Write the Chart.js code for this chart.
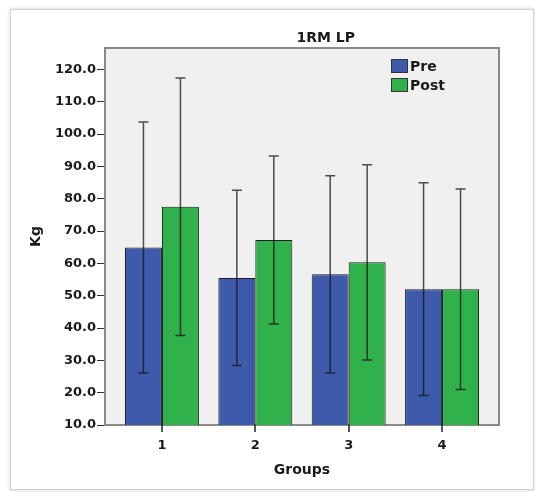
<!DOCTYPE html>
<html>
<head>
<meta charset="utf-8">
<script src="https://cdn.jsdelivr.net/npm/chart.js@4/dist/chart.umd.min.js"></script>
<style>
  html, body { margin: 0; padding: 0; background: #ffffff; }
  #wrap { position: relative; width: 535px; height: 492px; overflow: hidden; }
  #frame { position: absolute; left: 10px; top: 9px; width: 522px; height: 479px;
           border: 1px solid #d2d2d2; box-shadow: 0 0 4px rgba(0,0,0,0.18); background: #fff; }
  canvas { position: absolute; left: 0; top: 0; }
</style>
</head>
<body>
<div id="wrap">
  <div id="frame"></div>
  <canvas id="chart" width="535" height="492"></canvas>
</div>
<script>
// 1RM leg press, mean ± SD per group, before and after training
const chartTitle = '1RM LP';
const groups = [1, 2, 3, 4];
const seriesNames = ['Pre', 'Post'];
const preMean = [64.9, 55.5, 56.6, 52.0];
const preSD = [38.8, 27.1, 30.5, 32.9];
const postMean = [77.5, 67.2, 60.3, 52.0];
const postSD = [39.8, 26.0, 30.2, 31.0];
const yTickValues = [10, 20, 30, 40, 50, 60, 70, 80, 90, 100, 110, 120];
const xAxisTitle = 'Groups';
const yAxisTitle = 'Kg';

const FONT = 'DejaVu Sans';
const preColor = '#3e5aaa';
const postColor = '#31b14b';

// plot panel: grey fill and frame
const panelPlugin = {
  id: 'panel',
  beforeDraw(chart) {
    const { ctx, chartArea: a } = chart;
    ctx.save();
    ctx.fillStyle = '#f0f0f0';
    ctx.fillRect(a.left, a.top, a.right - a.left, a.bottom - a.top);
    ctx.restore();
  },
  beforeDatasetsDraw(chart) {
    const { ctx, chartArea: a } = chart;
    ctx.save();
    ctx.strokeStyle = '#8a8a8a';
    ctx.lineWidth = 2;
    ctx.strokeRect(a.left, a.top, a.right - a.left, a.bottom - a.top);
    ctx.restore();
  }
};

// whiskers: mean ± SD
const errorBarPlugin = {
  id: 'errorBars',
  afterDatasetsDraw(chart) {
    const { ctx } = chart;
    const y = chart.scales.y;
    ctx.save();
    ctx.strokeStyle = 'rgba(20,20,20,0.75)';
    ctx.lineWidth = 1.5;
    chart.data.datasets.forEach((ds, d) => {
      const meta = chart.getDatasetMeta(d);
      meta.data.forEach((bar, i) => {
        const m = ds.data[i].y, e = ds.errors[i];
        const yt = y.getPixelForValue(m + e);
        const yb = y.getPixelForValue(m - e);
        const x = bar.x, cap = 5;
        ctx.beginPath();
        ctx.moveTo(x, yt); ctx.lineTo(x, yb);
        ctx.moveTo(x - cap, yt); ctx.lineTo(x + cap, yt);
        ctx.moveTo(x - cap, yb); ctx.lineTo(x + cap, yb);
        ctx.stroke();
      });
    });
    ctx.restore();
  }
};

// title and legend inside the plot panel, group tick marks under the axis
const labelsPlugin = {
  id: 'labels',
  afterDraw(chart) {
    const { ctx, chartArea: a } = chart;
    const xs = chart.scales.x;
    ctx.save();
    ctx.strokeStyle = '#222';
    ctx.lineWidth = 1.5;
    ctx.beginPath();
    xs.ticks.forEach(t => {
      const px = Math.round(xs.getPixelForValue(t.value));
      ctx.moveTo(px, a.bottom);
      ctx.lineTo(px, a.bottom + 7);
    });
    ctx.stroke();

    ctx.fillStyle = '#1a1a1a';
    ctx.font = 'bold 14px "' + FONT + '"';
    ctx.textAlign = 'center';
    ctx.textBaseline = 'middle';
    ctx.fillText(chartTitle, a.left + (a.right - a.left) * 0.56, a.top - 10);

    ctx.font = 'bold 14px "' + FONT + '"';
    ctx.textAlign = 'left';
    chart.data.datasets.forEach((ds, d) => {
      const bx = a.right - 108, by = a.top + 11 + d * 19;
      ctx.fillStyle = ds.backgroundColor;
      ctx.fillRect(bx, by, 17, 14);
      ctx.strokeStyle = '#333';
      ctx.lineWidth = 1;
      ctx.strokeRect(bx + 0.5, by + 0.5, 16, 13);
      ctx.fillStyle = '#1a1a1a';
      ctx.fillText(ds.label, bx + 19, by + 8);
    });
    ctx.restore();
  }
};

const toPoints = vals => groups.map((g, i) => ({ x: g, y: vals[i] }));

new Chart(document.getElementById('chart'), {
  type: 'bar',
  data: {
    datasets: [
      { label: seriesNames[0], data: toPoints(preMean), errors: preSD,
        backgroundColor: preColor, borderColor: '#1e1e1e', borderWidth: 1 },
      { label: seriesNames[1], data: toPoints(postMean), errors: postSD,
        backgroundColor: postColor, borderColor: '#1e1e1e', borderWidth: 1 }
    ]
  },
  options: {
    responsive: false,
    animation: false,
    devicePixelRatio: 1,
    categoryPercentage: 0.792,
    barPercentage: 1.0,
    layout: { padding: { left: 0, right: 36, top: 48, bottom: 0 } },
    plugins: { legend: { display: false }, title: { display: false }, tooltip: { enabled: false } },
    scales: {
      x: {
        type: 'linear',
        offset: false,
        min: 0.39, max: 4.61,
        afterBuildTicks: s => { s.ticks = groups.map(v => ({ value: v })); },
        afterFit: s => { s.height = 67; },
        grid: { display: false, tickLength: 7 },
        border: { display: false },
        ticks: { color: '#1a1a1a', padding: 6, font: { family: FONT, size: 13, weight: 'bold' },
                 callback: v => String(v) },
        title: { display: true, text: xAxisTitle, color: '#1a1a1a',
                 font: { family: FONT, size: 14, weight: 'bold' }, padding: { top: 0, bottom: 13 } }
      },
      y: {
        min: 10, max: 126.6,
        afterBuildTicks: s => { s.ticks = yTickValues.map(v => ({ value: v })); },
        afterFit: s => { s.width = 105; },
        grid: { drawOnChartArea: false, drawTicks: true, tickLength: 8, color: '#333', lineWidth: 1 },
        border: { display: false },
        ticks: { color: '#1a1a1a', padding: 1, font: { family: FONT, size: 13, weight: 'bold' },
                 callback: v => v.toFixed(1) },
        title: { display: true, text: yAxisTitle, color: '#1a1a1a',
                 font: { family: FONT, size: 14, weight: 'bold' }, padding: { top: 28, bottom: 0 } }
      }
    }
  },
  plugins: [panelPlugin, errorBarPlugin, labelsPlugin]
});
</script>
</body>
</html>
